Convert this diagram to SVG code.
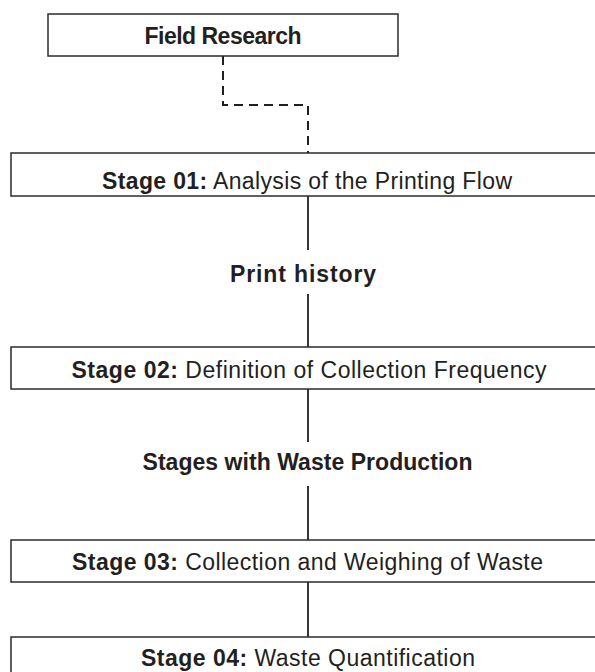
<svg xmlns="http://www.w3.org/2000/svg" width="595" height="672" viewBox="0 0 595 672">
<style>
.box{fill:#fff;stroke:#2b2b2b;stroke-width:1.5}
.t{font-family:"Liberation Sans",Arial,sans-serif;font-size:23px;fill:#231f20;text-anchor:middle}
.b{font-weight:bold}
.ln{fill:none;stroke:#231f20;stroke-width:1.8}
.dash{stroke-dasharray:9 6;stroke-width:2}
</style>
<rect width="595" height="672" fill="#fff"/>
<g id="connectors">
<path class="ln dash" d="M223,56 V105 H308 V153"/>
<path class="ln" d="M308,196 V250"/>
<path class="ln" d="M308,294 V347"/>
<path class="ln" d="M308,389 V442"/>
<path class="ln" d="M308,486 V540"/>
<path class="ln" d="M308,582 V637"/>
</g>
<g id="field-research">
<rect class="box" x="48" y="14" width="350" height="42"/>
<text class="t b" x="223" y="44" textLength="157">Field Research</text>
</g>
<g id="stage01">
<rect class="box" x="11" y="153" width="600" height="43"/>
<text class="t" x="307" y="189" textLength="410"><tspan class="b">Stage 01:</tspan> Analysis of the Printing Flow</text>
</g>
<g id="print-history">
<text class="t b" x="303" y="282" textLength="146">Print history</text>
</g>
<g id="stage02">
<rect class="box" x="11" y="347" width="600" height="42"/>
<text class="t" x="309" y="378" textLength="475"><tspan class="b">Stage 02:</tspan> Definition of Collection Frequency</text>
</g>
<g id="stages-waste">
<text class="t b" x="307.5" y="470" textLength="330">Stages with Waste Production</text>
</g>
<g id="stage03">
<rect class="box" x="11" y="540" width="600" height="42"/>
<text class="t" x="307.5" y="570" textLength="471"><tspan class="b">Stage 03:</tspan> Collection and Weighing of Waste</text>
</g>
<g id="stage04">
<rect class="box" x="11" y="637" width="600" height="50"/>
<text class="t" x="308" y="666" textLength="334"><tspan class="b">Stage 04:</tspan> Waste Quantification</text>
</g>
</svg>
